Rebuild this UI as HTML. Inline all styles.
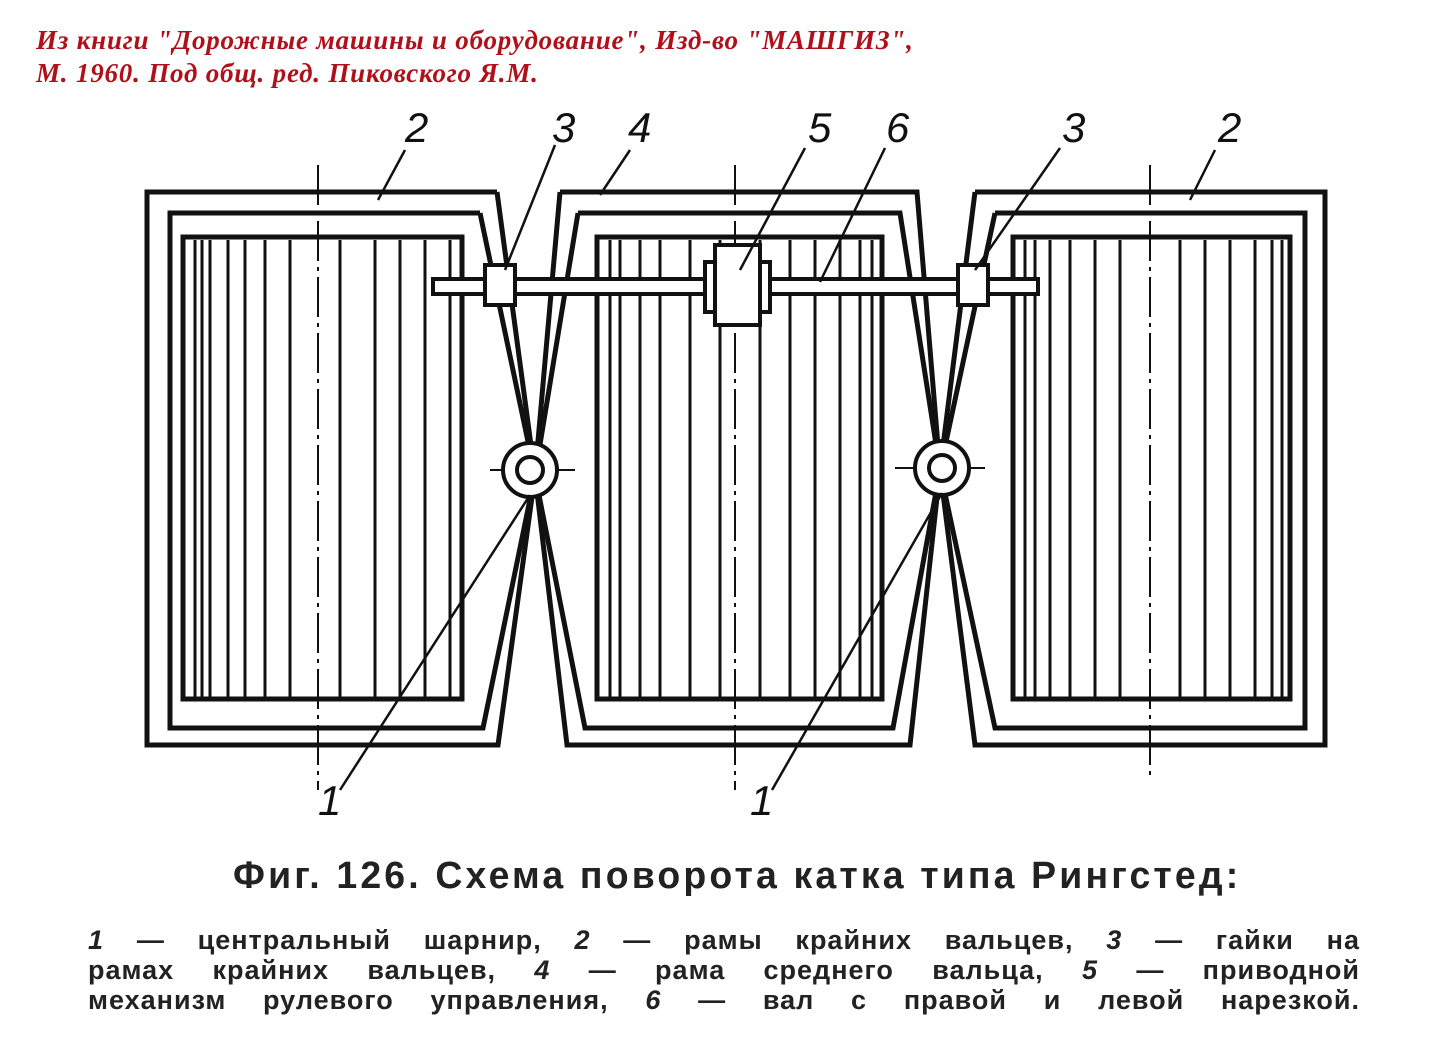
<!DOCTYPE html>
<html><head><meta charset="utf-8"><style>
body{margin:0;width:1440px;height:1049px;background:#fff;overflow:hidden;position:relative;font-family:"Liberation Sans",sans-serif}
.hd{position:absolute;left:36px;color:#b0101a;font-family:"Liberation Serif",serif;font-style:italic;font-weight:bold;font-size:27px;letter-spacing:0.8px;white-space:nowrap}
.cap{position:absolute;left:233px;top:855px;font-size:38px;color:#222;letter-spacing:3.2px;white-space:nowrap;font-weight:bold;transform:scaleX(0.985);transform-origin:left}
.p{position:absolute;left:88px;width:1272px;font-size:27px;color:#222;text-align:justify;text-align-last:justify;letter-spacing:1px;white-space:nowrap;line-height:30px;font-weight:bold}
</style></head><body>
<div class="hd" style="top:25px">Из книги "Дорожные машины и оборудование", Изд-во "МАШГИЗ",</div>
<div class="hd" style="top:58px">М. 1960. Под общ. ред. Пиковского Я.М.</div>
<svg width="1440" height="850" style="position:absolute;left:0;top:0" fill="none" stroke="#111">
<g stroke-width="5">
<polyline points="497,192 147,192 147,745 498,745 535,475 497,192"/>
<polyline points="480,213 170,213 170,728 483,728 535,475 480,213"/>
<polyline points="560,192 917,192 940,470 910,745 567,745 535,475 560,192"/>
<polyline points="578,213 900,213 940,470 893,728 585,728 535,475 578,213"/>
<polyline points="975,192 1325,192 1325,745 975,745 940,470 975,192"/>
<polyline points="995,213 1305,213 1305,728 995,728 940,470 995,213"/>
<rect x="183" y="237" width="279" height="462"/>
<rect x="597" y="237" width="285" height="462"/>
<rect x="1013" y="237" width="277" height="462"/>
</g>
<g stroke-width="3">
<path d="M195 240V697M202 240V697M210 240V697M228 240V697M245 240V697M265 240V697M290 240V697M340 240V697M375 240V697M400 240V697M425 240V697M450 240V697"/>
<path d="M610 240V697M620 240V697M640 240V697M660 240V697M690 240V697M720 240V697M760 240V697M790 240V697M815 240V697M840 240V697M860 240V697M872 240V697"/>
<path d="M1025 240V697M1035 240V697M1050 240V697M1070 240V697M1095 240V697M1120 240V697M1180 240V697M1205 240V697M1230 240V697M1255 240V697M1272 240V697M1282 240V697"/>
</g>
<g stroke-width="2" stroke-dasharray="40,6,4,6">
<path d="M318 165V790M735 165V790M1150 165V775"/>
<path d="M490 470H575M895 468H985"/>
</g>
<g fill="#fff" stroke-width="4">
<rect x="433" y="279" width="605" height="15"/>
<rect x="485" y="265" width="30" height="40"/>
<rect x="958" y="265" width="30" height="40"/>
<rect x="705" y="262" width="65" height="50"/>
<rect x="715" y="245" width="45" height="80"/>
<circle cx="530" cy="470" r="27"/><circle cx="530" cy="470" r="13"/>
<circle cx="942" cy="468" r="27"/><circle cx="942" cy="468" r="13"/>
</g>
<g stroke-width="2.5">
<path d="M378 200L405 150M505 270L555 145M600 195L630 150M740 270L805 148M820 282L885 148M975 270L1060 148M1190 200L1215 150"/>
<path d="M530 495L340 790M942 493L772 790"/>
</g>
<g fill="#111" stroke="none" font-family="Liberation Sans,sans-serif" font-style="italic" font-size="42">
<text x="405" y="142">2</text><text x="552" y="142">3</text><text x="628" y="142">4</text>
<text x="808" y="142">5</text><text x="886" y="142">6</text><text x="1062" y="142">3</text><text x="1218" y="142">2</text>
<text x="318" y="815">1</text><text x="750" y="815">1</text>
</g>
</svg>
<div class="cap">Фиг. 126. Схема поворота катка типа Рингстед:</div>
<div class="p" style="top:925px"><i>1</i> — центральный шарнир, <i>2</i> — рамы крайних вальцев, <i>3</i> — гайки на</div>
<div class="p" style="top:955px">рамах крайних вальцев, <i>4</i> — рама среднего вальца, <i>5</i> — приводной</div>
<div class="p" style="top:985px">механизм рулевого управления, <i>6</i> — вал с правой и левой нарезкой.</div>
</body></html>
